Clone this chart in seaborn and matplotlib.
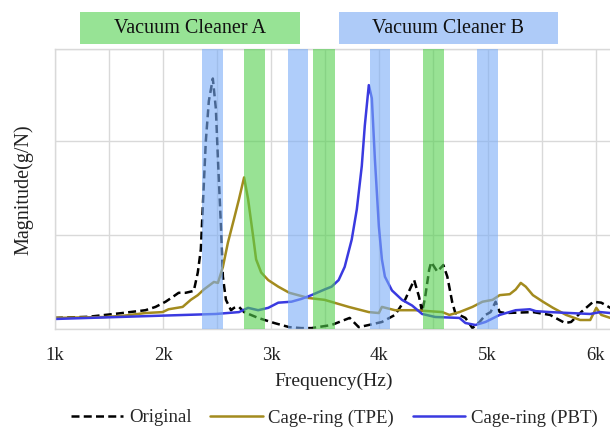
import matplotlib
matplotlib.use("Agg")
import matplotlib.pyplot as plt
import seaborn as sns
import pandas as pd
from matplotlib.patches import Rectangle

# data (frequency in Hz, magnitude in grid units)
orig_f = [1000, 1307, 1623, 1837, 1930, 2023, 2088, 2144, 2209, 2284, 2321, 2349,
          2395, 2423, 2460, 2488, 2507, 2535, 2553, 2581, 2628, 2656, 2702, 2749,
          2879, 3028, 3167, 3279, 3372, 3558, 3725, 3809, 3902, 4023, 4144, 4237,
          4321, 4367, 4395, 4423, 4460, 4479, 4535, 4591, 4628, 4674, 4702, 4795,
          4860, 4926, 4981, 5028, 5074, 5112, 5167, 5419, 5577, 5716, 5772, 5865,
          5977, 6051, 6135, 6163]
orig_m = [0.118, 0.13, 0.17, 0.20, 0.235, 0.29, 0.34, 0.385, 0.385, 0.405, 0.60, 0.845,
          1.99, 2.42, 2.66, 2.34, 1.81, 1.09, 0.556, 0.31, 0.20, 0.225, 0.235, 0.18,
          0.118, 0.064, 0.02, 0.01, 0.01, 0.043, 0.118, 0.02, 0.043, 0.075, 0.15, 0.31,
          0.52, 0.34, 0.18, 0.34, 0.63, 0.71, 0.61, 0.68, 0.556, 0.28, 0.17, 0.118,
          0.01, 0.075, 0.15, 0.18, 0.29, 0.18, 0.17, 0.18, 0.15, 0.064, 0.075, 0.18,
          0.29, 0.28, 0.225, 0.20]

tpe_f = [1000, 1465, 1623, 1837, 1995, 2051, 2181, 2256, 2321, 2377, 2470, 2507,
         2553, 2600, 2656, 2702, 2749, 2786, 2833, 2860, 2907, 2972, 3065, 3167,
         3344, 3493, 3716, 3902, 3995, 4023, 4144, 4330, 4581, 4647, 4740, 4860,
         4953, 5046, 5112, 5205, 5260, 5307, 5353, 5419, 5512, 5605, 5726, 5856,
         5949, 6005, 6051, 6135, 6163]
tpe_m = [0.118, 0.128, 0.14, 0.17, 0.18, 0.21, 0.235, 0.31, 0.36, 0.42, 0.50, 0.49,
         0.66, 0.92, 1.17, 1.38, 1.61, 1.38, 0.98, 0.74, 0.60, 0.52, 0.45, 0.385,
         0.33, 0.31, 0.235, 0.18, 0.17, 0.235, 0.20, 0.20, 0.18, 0.15, 0.18, 0.235,
         0.29, 0.31, 0.36, 0.37, 0.42, 0.49, 0.45, 0.36, 0.29, 0.225, 0.15, 0.096,
         0.096, 0.225, 0.15, 0.118, 0.11]

pbt_f = [1000, 2488, 2702, 2786, 2879, 2972, 3065, 3186, 3279, 3372, 3493, 3558,
         3623, 3679, 3744, 3791, 3837, 3865, 3902, 3930, 3958, 3995, 4023, 4051,
         4116, 4209, 4302, 4395, 4516, 4740, 4795, 4888, 4981, 5112, 5260, 5391,
         5446, 5577, 5763, 5949, 6042, 6135, 6163]
pbt_m = [0.107, 0.16, 0.18, 0.225, 0.20, 0.225, 0.28, 0.29, 0.32, 0.36, 0.42, 0.45,
         0.52, 0.66, 0.95, 1.27, 1.73, 2.16, 2.59, 2.45, 1.81, 1.09, 0.74, 0.556,
         0.41, 0.31, 0.25, 0.16, 0.128, 0.118, 0.064, 0.043, 0.075, 0.15, 0.20, 0.21,
         0.19, 0.18, 0.17, 0.16, 0.18, 0.17, 0.17]

# operating frequency bands of the two vacuum cleaners
bands_a = [(2750, 2945), (3390, 3586), (4405, 4600)]
bands_b = [(2358, 2553), (3158, 3344), (3912, 4098), (4898, 5093)]
ticks = [1000, 2000, 3000, 4000, 5000, 6000]
tick_labels = ["1k", "2k", "3k", "4k", "5k", "6k"]

sns.set_theme(style="whitegrid")
plt.rcParams['font.family'] = ['Liberation Serif', 'DejaVu Serif']

fig = plt.figure(figsize=(6.1, 4.29), dpi=100)
ax = fig.add_axes([0.090, 0.233, 0.915, 0.652])

df_o = pd.DataFrame({'f': orig_f, 'm': orig_m})
df_t = pd.DataFrame({'f': tpe_f, 'm': tpe_m})
df_p = pd.DataFrame({'f': pbt_f, 'm': pbt_m})

sns.lineplot(data=df_o, x='f', y='m', ax=ax, color='black', lw=1.8,
             label='Original', zorder=2).lines[-1].set_dashes((3.2, 1.7))
sns.lineplot(data=df_t, x='f', y='m', ax=ax, color='#a38b1e', lw=1.8,
             label='Cage-ring (TPE)', zorder=2)
sns.lineplot(data=df_p, x='f', y='m', ax=ax, color='#3a3ae0', lw=1.8,
             label='Cage-ring (PBT)', zorder=2)

for a, b in bands_a:
    ax.axvspan(a, b, color='#53cf4d', alpha=0.6, lw=0, zorder=3)
for a, b in bands_b:
    ax.axvspan(a, b, color='#7badf7', alpha=0.6, lw=0, zorder=3)

ax.set_xlim(1000, 6160)
ax.set_ylim(0, 2.97)
ax.set_xticks(list(range(1000, 6500, 500)))
ax.set_xticklabels([tick_labels[ticks.index(t)] if t in ticks else "" for t in range(1000, 6500, 500)])
ax.set_yticks([0, 1, 2, 2.97])
ax.set_yticklabels([])
ax.tick_params(axis='x', labelsize=13.5, pad=7, colors='#222222')
ax.tick_params(axis='y', length=0)
ax.grid(True, color='#d9d9d9', lw=1)
for s in ax.spines.values():
    s.set_color('#d9d9d9')
    s.set_linewidth(1)
ax.spines['right'].set_visible(False)

ax.set_xlabel('Frequency(Hz)', fontsize=14, color='#222222', labelpad=6)
ax.set_ylabel('Magnitude(g/N)', fontsize=14.5, color='#222222', labelpad=12)

ax.get_legend().remove()
h, l = ax.get_legend_handles_labels()
fig.legend(h, l, loc='center', bbox_to_anchor=(0.548, 0.026), ncol=3, frameon=False,
           fontsize=13.5, handlelength=2.8, columnspacing=1.0, handletextpad=0.3)

# header boxes
fig.add_artist(Rectangle((0.131, 0.897), 0.361, 0.075, transform=fig.transFigure,
                         facecolor='#97e395', edgecolor='none'))
fig.add_artist(Rectangle((0.556, 0.897), 0.359, 0.075, transform=fig.transFigure,
                         facecolor='#aecbf8', edgecolor='none'))
fig.text(0.311, 0.933, 'Vacuum Cleaner A', ha='center', va='center', fontsize=14.5, color='#111111')
fig.text(0.735, 0.933, 'Vacuum Cleaner B', ha='center', va='center', fontsize=14.5, color='#111111')

fig.savefig('out.png', dpi=100)
